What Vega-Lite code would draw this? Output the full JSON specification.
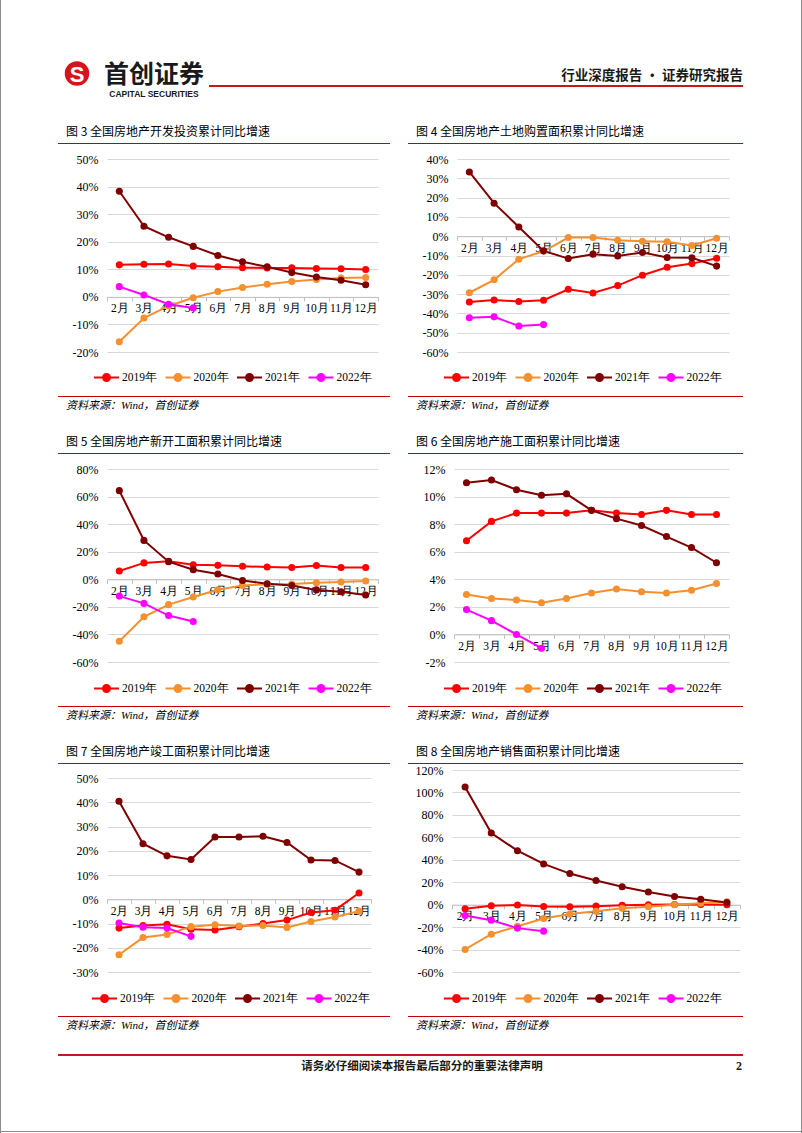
{
"$schema": "https://vega.github.io/schema/vega-lite/v6.json",
"background": "white",
"padding": 0,
"config": {"view": {"stroke": null}, "font": "Noto Sans CJK SC"},
"datasets": {
"c1": [
{"month":"2月","year":"2019年","value":11.6},{"month":"3月","year":"2019年","value":11.8},{"month":"4月","year":"2019年","value":11.9},{"month":"5月","year":"2019年","value":11.2},{"month":"6月","year":"2019年","value":10.9},{"month":"7月","year":"2019年","value":10.6},{"month":"8月","year":"2019年","value":10.5},{"month":"9月","year":"2019年","value":10.5},{"month":"10月","year":"2019年","value":10.3},{"month":"11月","year":"2019年","value":10.2},{"month":"12月","year":"2019年","value":9.9},
{"month":"2月","year":"2020年","value":-16.3},{"month":"3月","year":"2020年","value":-7.7},{"month":"4月","year":"2020年","value":-3.3},{"month":"5月","year":"2020年","value":-0.3},{"month":"6月","year":"2020年","value":1.9},{"month":"7月","year":"2020年","value":3.4},{"month":"8月","year":"2020年","value":4.6},{"month":"9月","year":"2020年","value":5.6},{"month":"10月","year":"2020年","value":6.3},{"month":"11月","year":"2020年","value":6.8},{"month":"12月","year":"2020年","value":7.0},
{"month":"2月","year":"2021年","value":38.3},{"month":"3月","year":"2021年","value":25.6},{"month":"4月","year":"2021年","value":21.6},{"month":"5月","year":"2021年","value":18.3},{"month":"6月","year":"2021年","value":15.0},{"month":"7月","year":"2021年","value":12.7},{"month":"8月","year":"2021年","value":10.9},{"month":"9月","year":"2021年","value":8.8},{"month":"10月","year":"2021年","value":7.2},{"month":"11月","year":"2021年","value":6.0},{"month":"12月","year":"2021年","value":4.4},
{"month":"2月","year":"2022年","value":3.7},{"month":"3月","year":"2022年","value":0.7},{"month":"4月","year":"2022年","value":-2.7},{"month":"5月","year":"2022年","value":-4.0}],
"c2": [
{"month":"2月","year":"2019年","value":-34.1},{"month":"3月","year":"2019年","value":-33.1},{"month":"4月","year":"2019年","value":-33.8},{"month":"5月","year":"2019年","value":-33.2},{"month":"6月","year":"2019年","value":-27.5},{"month":"7月","year":"2019年","value":-29.4},{"month":"8月","year":"2019年","value":-25.6},{"month":"9月","year":"2019年","value":-20.2},{"month":"10月","year":"2019年","value":-16.1},{"month":"11月","year":"2019年","value":-14.2},{"month":"12月","year":"2019年","value":-11.4},
{"month":"2月","year":"2020年","value":-29.3},{"month":"3月","year":"2020年","value":-22.6},{"month":"4月","year":"2020年","value":-11.9},{"month":"5月","year":"2020年","value":-7.8},{"month":"6月","year":"2020年","value":-0.7},{"month":"7月","year":"2020年","value":-0.7},{"month":"8月","year":"2020年","value":-2.1},{"month":"9月","year":"2020年","value":-2.6},{"month":"10月","year":"2020年","value":-2.9},{"month":"11月","year":"2020年","value":-4.8},{"month":"12月","year":"2020年","value":-1.1},
{"month":"2月","year":"2021年","value":33.3},{"month":"3月","year":"2021年","value":17.1},{"month":"4月","year":"2021年","value":4.8},{"month":"5月","year":"2021年","value":-7.6},{"month":"6月","year":"2021年","value":-11.6},{"month":"7月","year":"2021年","value":-9.3},{"month":"8月","year":"2021年","value":-10.2},{"month":"9月","year":"2021年","value":-8.4},{"month":"10月","year":"2021年","value":-11.0},{"month":"11月","year":"2021年","value":-11.2},{"month":"12月","year":"2021年","value":-15.5},
{"month":"2月","year":"2022年","value":-42.3},{"month":"3月","year":"2022年","value":-41.8},{"month":"4月","year":"2022年","value":-46.5},{"month":"5月","year":"2022年","value":-45.8}],
"c3": [
{"month":"2月","year":"2019年","value":6.0},{"month":"3月","year":"2019年","value":11.9},{"month":"4月","year":"2019年","value":13.1},{"month":"5月","year":"2019年","value":10.5},{"month":"6月","year":"2019年","value":10.1},{"month":"7月","year":"2019年","value":9.5},{"month":"8月","year":"2019年","value":8.9},{"month":"9月","year":"2019年","value":8.6},{"month":"10月","year":"2019年","value":10.0},{"month":"11月","year":"2019年","value":8.6},{"month":"12月","year":"2019年","value":8.5},
{"month":"2月","year":"2020年","value":-44.9},{"month":"3月","year":"2020年","value":-27.2},{"month":"4月","year":"2020年","value":-18.4},{"month":"5月","year":"2020年","value":-12.8},{"month":"6月","year":"2020年","value":-7.6},{"month":"7月","year":"2020年","value":-4.5},{"month":"8月","year":"2020年","value":-3.6},{"month":"9月","year":"2020年","value":-3.4},{"month":"10月","year":"2020年","value":-2.6},{"month":"11月","year":"2020年","value":-2.0},{"month":"12月","year":"2020年","value":-1.2},
{"month":"2月","year":"2021年","value":64.3},{"month":"3月","year":"2021年","value":28.2},{"month":"4月","year":"2021年","value":12.8},{"month":"5月","year":"2021年","value":6.9},{"month":"6月","year":"2021年","value":3.8},{"month":"7月","year":"2021年","value":-0.9},{"month":"8月","year":"2021年","value":-3.2},{"month":"9月","year":"2021年","value":-4.5},{"month":"10月","year":"2021年","value":-7.7},{"month":"11月","year":"2021年","value":-9.1},{"month":"12月","year":"2021年","value":-11.4},
{"month":"2月","year":"2022年","value":-12.2},{"month":"3月","year":"2022年","value":-17.5},{"month":"4月","year":"2022年","value":-26.3},{"month":"5月","year":"2022年","value":-30.6}],
"c4": [
{"month":"2月","year":"2019年","value":6.8},{"month":"3月","year":"2019年","value":8.2},{"month":"4月","year":"2019年","value":8.8},{"month":"5月","year":"2019年","value":8.8},{"month":"6月","year":"2019年","value":8.8},{"month":"7月","year":"2019年","value":9.0},{"month":"8月","year":"2019年","value":8.8},{"month":"9月","year":"2019年","value":8.7},{"month":"10月","year":"2019年","value":9.0},{"month":"11月","year":"2019年","value":8.7},{"month":"12月","year":"2019年","value":8.7},
{"month":"2月","year":"2020年","value":2.9},{"month":"3月","year":"2020年","value":2.6},{"month":"4月","year":"2020年","value":2.5},{"month":"5月","year":"2020年","value":2.3},{"month":"6月","year":"2020年","value":2.6},{"month":"7月","year":"2020年","value":3.0},{"month":"8月","year":"2020年","value":3.3},{"month":"9月","year":"2020年","value":3.1},{"month":"10月","year":"2020年","value":3.0},{"month":"11月","year":"2020年","value":3.2},{"month":"12月","year":"2020年","value":3.7},
{"month":"2月","year":"2021年","value":11.0},{"month":"3月","year":"2021年","value":11.2},{"month":"4月","year":"2021年","value":10.5},{"month":"5月","year":"2021年","value":10.1},{"month":"6月","year":"2021年","value":10.2},{"month":"7月","year":"2021年","value":9.0},{"month":"8月","year":"2021年","value":8.4},{"month":"9月","year":"2021年","value":7.9},{"month":"10月","year":"2021年","value":7.1},{"month":"11月","year":"2021年","value":6.3},{"month":"12月","year":"2021年","value":5.2},
{"month":"2月","year":"2022年","value":1.8},{"month":"3月","year":"2022年","value":1.0},{"month":"4月","year":"2022年","value":0.0},{"month":"5月","year":"2022年","value":-1.0}],
"c5": [
{"month":"2月","year":"2019年","value":-11.9},{"month":"3月","year":"2019年","value":-10.8},{"month":"4月","year":"2019年","value":-10.3},{"month":"5月","year":"2019年","value":-12.4},{"month":"6月","year":"2019年","value":-12.7},{"month":"7月","year":"2019年","value":-11.3},{"month":"8月","year":"2019年","value":-10.0},{"month":"9月","year":"2019年","value":-8.6},{"month":"10月","year":"2019年","value":-5.5},{"month":"11月","year":"2019年","value":-4.5},{"month":"12月","year":"2019年","value":2.6},
{"month":"2月","year":"2020年","value":-22.9},{"month":"3月","year":"2020年","value":-15.8},{"month":"4月","year":"2020年","value":-14.5},{"month":"5月","year":"2020年","value":-11.3},{"month":"6月","year":"2020年","value":-10.5},{"month":"7月","year":"2020年","value":-11.0},{"month":"8月","year":"2020年","value":-10.8},{"month":"9月","year":"2020年","value":-11.6},{"month":"10月","year":"2020年","value":-9.2},{"month":"11月","year":"2020年","value":-7.3},{"month":"12月","year":"2020年","value":-4.9},
{"month":"2月","year":"2021年","value":40.4},{"month":"3月","year":"2021年","value":22.9},{"month":"4月","year":"2021年","value":17.9},{"month":"5月","year":"2021年","value":16.4},{"month":"6月","year":"2021年","value":25.7},{"month":"7月","year":"2021年","value":25.7},{"month":"8月","year":"2021年","value":26.0},{"month":"9月","year":"2021年","value":23.4},{"month":"10月","year":"2021年","value":16.2},{"month":"11月","year":"2021年","value":16.0},{"month":"12月","year":"2021年","value":11.2},
{"month":"2月","year":"2022年","value":-9.8},{"month":"3月","year":"2022年","value":-11.5},{"month":"4月","year":"2022年","value":-11.9},{"month":"5月","year":"2022年","value":-15.3}],
"c6": [
{"month":"2月","year":"2019年","value":-3.6},{"month":"3月","year":"2019年","value":-0.9},{"month":"4月","year":"2019年","value":-0.3},{"month":"5月","year":"2019年","value":-1.6},{"month":"6月","year":"2019年","value":-1.8},{"month":"7月","year":"2019年","value":-1.3},{"month":"8月","year":"2019年","value":-0.6},{"month":"9月","year":"2019年","value":-0.1},{"month":"10月","year":"2019年","value":0.1},{"month":"11月","year":"2019年","value":0.2},{"month":"12月","year":"2019年","value":-0.1},
{"month":"2月","year":"2020年","value":-39.9},{"month":"3月","year":"2020年","value":-26.3},{"month":"4月","year":"2020年","value":-19.3},{"month":"5月","year":"2020年","value":-12.3},{"month":"6月","year":"2020年","value":-8.4},{"month":"7月","year":"2020年","value":-5.8},{"month":"8月","year":"2020年","value":-3.3},{"month":"9月","year":"2020年","value":-1.8},{"month":"10月","year":"2020年","value":0.0},{"month":"11月","year":"2020年","value":1.3},{"month":"12月","year":"2020年","value":2.6},
{"month":"2月","year":"2021年","value":104.9},{"month":"3月","year":"2021年","value":63.8},{"month":"4月","year":"2021年","value":48.1},{"month":"5月","year":"2021年","value":36.3},{"month":"6月","year":"2021年","value":27.7},{"month":"7月","year":"2021年","value":21.5},{"month":"8月","year":"2021年","value":15.9},{"month":"9月","year":"2021年","value":11.3},{"month":"10月","year":"2021年","value":7.3},{"month":"11月","year":"2021年","value":4.8},{"month":"12月","year":"2021年","value":1.9},
{"month":"2月","year":"2022年","value":-9.6},{"month":"3月","year":"2022年","value":-13.8},{"month":"4月","year":"2022年","value":-20.9},{"month":"5月","year":"2022年","value":-23.6}]
},
"spacing": 0,
"bounds": "full",
"resolve": {"scale": {"color": "independent"}, "legend": {"color": "independent"}},
"hconcat": [
{"width": 1, "height": 1133, "data": {"values": []}, "mark": "point", "view": {"fill": "#8c8c8c", "stroke": null}},
{"spacing": 0, "bounds": "full",
 "resolve": {"scale": {"color": "independent"}, "legend": {"color": "independent"}},
 "vconcat": [
  {"columns": 6, "spacing": 0, "bounds": "flush", "align": "each",
   "concat": [
    {"width": 62, "height": 62, "data": {"values": []}, "mark": "point"},
    {"width": 28, "height": 1, "data": {"values": []}, "mark": "point"},
    {"width": 8, "height": 1, "data": {"values": []}, "mark": "point"},
    {"width": 110, "height": 1, "data": {"values": []}, "mark": "point"},
    {"width": 534, "height": 1, "data": {"values": []}, "mark": "point"},
    {"width": 58, "height": 1, "data": {"values": []}, "mark": "point"},

    {"width": 1, "height": 23, "data": {"values": []}, "mark": "point"},
    {"width": 28, "height": 23, "data": {"values": [{"t": "S"}]},
     "layer": [
      {"mark": {"type": "point", "shape": "circle", "filled": true, "size": 600, "color": "#d7141a", "opacity": 1}},
      {"mark": {"type": "text", "font": "Liberation Sans", "fontSize": 22, "fontWeight": "bold", "color": "#ffffff", "baseline": "middle", "dy": 1}, "encoding": {"text": {"field": "t"}}}
     ]},
    {"width": 1, "height": 1, "data": {"values": []}, "mark": "point"},
    {"width": 110, "height": 23, "data": {"values": [{"t": "首创证券"}]}, "mark": {"type": "text", "font": "Noto Sans CJK SC", "fontSize": 25, "fontWeight": "bold", "color": "#1a1a1a", "baseline": "middle", "dy": 1.5}, "encoding": {"text": {"field": "t"}}},
    {"width": 1, "height": 1, "data": {"values": []}, "mark": "point"},
    {"width": 1, "height": 1, "data": {"values": []}, "mark": "point"},

    {"width": 1, "height": 2, "data": {"values": []}, "mark": "point"},
    {"width": 1, "height": 1, "data": {"values": []}, "mark": "point"},
    {"width": 1, "height": 1, "data": {"values": []}, "mark": "point"},
    {"width": 1, "height": 1, "data": {"values": []}, "mark": "point"},
    {"width": 534, "height": 2, "data": {"values": []}, "mark": "point", "view": {"fill": "#c8161d", "stroke": null},
     "title": {"text": "行业深度报告 · 证券研究报告", "orient": "top", "anchor": "end", "offset": 3, "fontSize": 13.5, "font": "Noto Sans CJK SC", "fontWeight": "bold", "color": "#1a1a1a"}},
    {"width": 1, "height": 1, "data": {"values": []}, "mark": "point"},

    {"width": 1, "height": 13, "data": {"values": []}, "mark": "point"},
    {"width": 1, "height": 1, "data": {"values": []}, "mark": "point"},
    {"width": 1, "height": 1, "data": {"values": []}, "mark": "point"},
    {"width": 110, "height": 13, "data": {"values": [{"t": "CAPITAL SECURITIES"}]}, "mark": {"type": "text", "font": "Liberation Sans", "fontSize": 8.5, "fontWeight": "bold", "color": "#1a1a1a", "baseline": "middle"}, "encoding": {"text": {"field": "t"}}},
    {"width": 1, "height": 1, "data": {"values": []}, "mark": "point"},
    {"width": 1, "height": 1, "data": {"values": []}, "mark": "point"}
   ]},

  {"columns": 7, "spacing": 0, "bounds": "flush", "align": "each",
   "resolve": {"scale": {"color": "independent"}, "legend": {"color": "independent"}},
   "concat": [
    {"width": 57, "height": 43, "data": {"values": []}, "mark": "point"},
    {"width": 49, "height": 1, "data": {"values": []}, "mark": "point"},
    {"width": 271, "height": 1, "data": {"values": []}, "mark": "point"},
    {"width": 12, "height": 1, "data": {"values": []}, "mark": "point"},
    {"width": 18, "height": 1, "data": {"values": []}, "mark": "point"},
    {"width": 44, "height": 1, "data": {"values": []}, "mark": "point"},
    {"width": 291, "height": 1, "data": {"values": []}, "mark": "point"},

    {"width": 1, "height": 1, "data": {"values": []}, "mark": "point"},
    {"width": 49, "height": 1, "data": {"values": []}, "mark": "point", "view": {"fill": "#c00000", "stroke": null},
     "title": {"text": "图 3 全国房地产开发投资累计同比增速", "orient": "top", "anchor": "start", "offset": 4, "dx": 8, "fontSize": 12, "font": "Noto Sans CJK SC", "fontWeight": "normal", "color": "#000000"}},
    {"width": 271, "height": 1, "data": {"values": []}, "mark": "point", "view": {"fill": "#c00000", "stroke": null}},
    {"width": 12, "height": 1, "data": {"values": []}, "mark": "point", "view": {"fill": "#c00000", "stroke": null}},
    {"width": 1, "height": 1, "data": {"values": []}, "mark": "point"},
    {"width": 44, "height": 1, "data": {"values": []}, "mark": "point", "view": {"fill": "#c00000", "stroke": null},
     "title": {"text": "图 4 全国房地产土地购置面积累计同比增速", "orient": "top", "anchor": "start", "offset": 4, "dx": 8, "fontSize": 12, "font": "Noto Sans CJK SC", "fontWeight": "normal", "color": "#000000"}},
    {"width": 291, "height": 1, "data": {"values": []}, "mark": "point", "view": {"fill": "#c00000", "stroke": null}},

    {"width": 1, "height": 15, "data": {"values": []}, "mark": "point"},
    {"width": 1, "height": 1, "data": {"values": []}, "mark": "point"},
    {"width": 1, "height": 1, "data": {"values": []}, "mark": "point"},
    {"width": 1, "height": 1, "data": {"values": []}, "mark": "point"},
    {"width": 1, "height": 1, "data": {"values": []}, "mark": "point"},
    {"width": 1, "height": 1, "data": {"values": []}, "mark": "point"},
    {"width": 1, "height": 1, "data": {"values": []}, "mark": "point"},

    {"width": 1, "height": 1, "data": {"values": []}, "mark": "point"},
    {"width": 1, "height": 1, "data": {"values": []}, "mark": "point"},
    {"width": 271, "height": 193, "data": {"name": "c1"},
     "mark": {"type": "line", "strokeWidth": 2, "point": {"filled": true, "size": 50}},
     "encoding": {
      "x": {"field": "month", "type": "ordinal", "sort": ["2月","3月","4月","5月","6月","7月","8月","9月","10月","11月","12月"], "scale": {"type": "band", "paddingInner": 0, "paddingOuter": 0},
            "axis": {"title": null, "offset": -55.1, "labelAngle": 0, "domainColor": "#bfbfbf", "tickColor": "#bfbfbf", "tickSize": 4, "tickBand": "extent", "labelPadding": 2, "labelFont": "Liberation Serif", "labelFontSize": 11.5, "labelColor": "#000000", "grid": false}},
      "y": {"field": "value", "type": "quantitative", "scale": {"domain": [-20, 50], "nice": false, "zero": false},
            "axis": {"title": null, "values": [-20,-10,0,10,20,30,40,50], "labelExpr": "datum.value + '%'", "domain": false, "ticks": false, "gridColor": "#d9d9d9", "labelPadding": 9, "labelFont": "Liberation Serif", "labelFontSize": 12, "labelColor": "#000000"}},
      "color": {"field": "year", "type": "nominal", "scale": {"domain": ["2019年","2020年","2021年","2022年"], "range": ["#ff0000","#f5902f","#7f0000","#ff00ff"]},
            "legend": {"orient": "none", "legendX": -14, "legendY": 205, "direction": "horizontal", "title": null, "padding": 0, "symbolType": "M-1,0L1,0M0.28,0A0.28,0.28,0,1,1,-0.28,0A0.28,0.28,0,1,1,0.28,0M0.13,0A0.13,0.13,0,1,1,-0.13,0A0.13,0.13,0,1,1,0.13,0", "symbolSize": 625, "symbolStrokeWidth": 2, "labelFont": "Liberation Serif", "labelFontSize": 11.5, "labelColor": "#000000", "labelOffset": 2, "columnPadding": 4.5}}
     }},
    {"width": 1, "height": 1, "data": {"values": []}, "mark": "point"},
    {"width": 1, "height": 1, "data": {"values": []}, "mark": "point"},
    {"width": 1, "height": 1, "data": {"values": []}, "mark": "point"},
    {"width": 277, "height": 193, "data": {"name": "c2"},
     "mark": {"type": "line", "strokeWidth": 2, "point": {"filled": true, "size": 50}},
     "encoding": {
      "x": {"field": "month", "type": "ordinal", "sort": ["2月","3月","4月","5月","6月","7月","8月","9月","10月","11月","12月"], "scale": {"type": "band", "paddingInner": 0, "paddingOuter": 0, "range": [5, 277]},
            "axis": {"title": null, "offset": -115.8, "labelAngle": 0, "domainColor": "#bfbfbf", "tickColor": "#bfbfbf", "tickSize": 4, "tickBand": "extent", "labelPadding": 2, "labelFont": "Liberation Serif", "labelFontSize": 11.5, "labelColor": "#000000", "grid": false}},
      "y": {"field": "value", "type": "quantitative", "scale": {"domain": [-60, 40], "nice": false, "zero": false},
            "axis": {"title": null, "values": [-60,-50,-40,-30,-20,-10,0,10,20,30,40], "labelExpr": "datum.value + '%'", "domain": false, "ticks": false, "gridColor": "#d9d9d9", "labelPadding": 4, "labelFont": "Liberation Serif", "labelFontSize": 12, "labelColor": "#000000"}},
      "color": {"field": "year", "type": "nominal", "scale": {"domain": ["2019年","2020年","2021年","2022年"], "range": ["#ff0000","#f5902f","#7f0000","#ff00ff"]},
            "legend": {"orient": "none", "legendX": -9, "legendY": 205, "direction": "horizontal", "title": null, "padding": 0, "symbolType": "M-1,0L1,0M0.28,0A0.28,0.28,0,1,1,-0.28,0A0.28,0.28,0,1,1,0.28,0M0.13,0A0.13,0.13,0,1,1,-0.13,0A0.13,0.13,0,1,1,0.13,0", "symbolSize": 625, "symbolStrokeWidth": 2, "labelFont": "Liberation Serif", "labelFontSize": 11.5, "labelColor": "#000000", "labelOffset": 2, "columnPadding": 4.5}}
     }},

    {"width": 1, "height": 44, "data": {"values": []}, "mark": "point"},
    {"width": 1, "height": 1, "data": {"values": []}, "mark": "point"},
    {"width": 1, "height": 1, "data": {"values": []}, "mark": "point"},
    {"width": 1, "height": 1, "data": {"values": []}, "mark": "point"},
    {"width": 1, "height": 1, "data": {"values": []}, "mark": "point"},
    {"width": 1, "height": 1, "data": {"values": []}, "mark": "point"},
    {"width": 1, "height": 1, "data": {"values": []}, "mark": "point"},

    {"width": 1, "height": 1, "data": {"values": []}, "mark": "point"},
    {"width": 49, "height": 1, "data": {"values": []}, "mark": "point", "view": {"fill": "#c00000", "stroke": null},
     "title": {"text": "资料来源：Wind，首创证券", "orient": "bottom", "anchor": "start", "offset": 2.5, "dx": 8, "fontSize": 11, "font": "Liberation Serif, Noto Sans CJK SC", "fontStyle": "italic", "fontWeight": "normal", "color": "#000000"}},
    {"width": 271, "height": 1, "data": {"values": []}, "mark": "point", "view": {"fill": "#c00000", "stroke": null}},
    {"width": 12, "height": 1, "data": {"values": []}, "mark": "point", "view": {"fill": "#c00000", "stroke": null}},
    {"width": 1, "height": 1, "data": {"values": []}, "mark": "point"},
    {"width": 44, "height": 1, "data": {"values": []}, "mark": "point", "view": {"fill": "#c00000", "stroke": null},
     "title": {"text": "资料来源：Wind，首创证券", "orient": "bottom", "anchor": "start", "offset": 2.5, "dx": 8, "fontSize": 11, "font": "Liberation Serif, Noto Sans CJK SC", "fontStyle": "italic", "fontWeight": "normal", "color": "#000000"}},
    {"width": 291, "height": 1, "data": {"values": []}, "mark": "point", "view": {"fill": "#c00000", "stroke": null}},

    {"width": 1, "height": 56, "data": {"values": []}, "mark": "point"},
    {"width": 1, "height": 1, "data": {"values": []}, "mark": "point"},
    {"width": 1, "height": 1, "data": {"values": []}, "mark": "point"},
    {"width": 1, "height": 1, "data": {"values": []}, "mark": "point"},
    {"width": 1, "height": 1, "data": {"values": []}, "mark": "point"},
    {"width": 1, "height": 1, "data": {"values": []}, "mark": "point"},
    {"width": 1, "height": 1, "data": {"values": []}, "mark": "point"},

    {"width": 1, "height": 1, "data": {"values": []}, "mark": "point"},
    {"width": 49, "height": 1, "data": {"values": []}, "mark": "point", "view": {"fill": "#c00000", "stroke": null},
     "title": {"text": "图 5 全国房地产新开工面积累计同比增速", "orient": "top", "anchor": "start", "offset": 4, "dx": 8, "fontSize": 12, "font": "Noto Sans CJK SC", "fontWeight": "normal", "color": "#000000"}},
    {"width": 271, "height": 1, "data": {"values": []}, "mark": "point", "view": {"fill": "#c00000", "stroke": null}},
    {"width": 12, "height": 1, "data": {"values": []}, "mark": "point", "view": {"fill": "#c00000", "stroke": null}},
    {"width": 1, "height": 1, "data": {"values": []}, "mark": "point"},
    {"width": 44, "height": 1, "data": {"values": []}, "mark": "point", "view": {"fill": "#c00000", "stroke": null},
     "title": {"text": "图 6 全国房地产施工面积累计同比增速", "orient": "top", "anchor": "start", "offset": 4, "dx": 8, "fontSize": 12, "font": "Noto Sans CJK SC", "fontWeight": "normal", "color": "#000000"}},
    {"width": 291, "height": 1, "data": {"values": []}, "mark": "point", "view": {"fill": "#c00000", "stroke": null}},

    {"width": 1, "height": 15, "data": {"values": []}, "mark": "point"},
    {"width": 1, "height": 1, "data": {"values": []}, "mark": "point"},
    {"width": 1, "height": 1, "data": {"values": []}, "mark": "point"},
    {"width": 1, "height": 1, "data": {"values": []}, "mark": "point"},
    {"width": 1, "height": 1, "data": {"values": []}, "mark": "point"},
    {"width": 1, "height": 1, "data": {"values": []}, "mark": "point"},
    {"width": 1, "height": 1, "data": {"values": []}, "mark": "point"},

    {"width": 1, "height": 1, "data": {"values": []}, "mark": "point"},
    {"width": 1, "height": 1, "data": {"values": []}, "mark": "point"},
    {"width": 271, "height": 193, "data": {"name": "c3"},
     "mark": {"type": "line", "strokeWidth": 2, "point": {"filled": true, "size": 50}},
     "encoding": {
      "x": {"field": "month", "type": "ordinal", "sort": ["2月","3月","4月","5月","6月","7月","8月","9月","10月","11月","12月"], "scale": {"type": "band", "paddingInner": 0, "paddingOuter": 0},
            "axis": {"title": null, "offset": -82.7, "labelAngle": 0, "domainColor": "#bfbfbf", "tickColor": "#bfbfbf", "tickSize": 4, "tickBand": "extent", "labelPadding": 2, "labelFont": "Liberation Serif", "labelFontSize": 11.5, "labelColor": "#000000", "grid": false}},
      "y": {"field": "value", "type": "quantitative", "scale": {"domain": [-60, 80], "nice": false, "zero": false},
            "axis": {"title": null, "values": [-60,-40,-20,0,20,40,60,80], "labelExpr": "datum.value + '%'", "domain": false, "ticks": false, "gridColor": "#d9d9d9", "labelPadding": 9, "labelFont": "Liberation Serif", "labelFontSize": 12, "labelColor": "#000000"}},
      "color": {"field": "year", "type": "nominal", "scale": {"domain": ["2019年","2020年","2021年","2022年"], "range": ["#ff0000","#f5902f","#7f0000","#ff00ff"]},
            "legend": {"orient": "none", "legendX": -14, "legendY": 206, "direction": "horizontal", "title": null, "padding": 0, "symbolType": "M-1,0L1,0M0.28,0A0.28,0.28,0,1,1,-0.28,0A0.28,0.28,0,1,1,0.28,0M0.13,0A0.13,0.13,0,1,1,-0.13,0A0.13,0.13,0,1,1,0.13,0", "symbolSize": 625, "symbolStrokeWidth": 2, "labelFont": "Liberation Serif", "labelFontSize": 11.5, "labelColor": "#000000", "labelOffset": 2, "columnPadding": 4.5}}
     }},
    {"width": 1, "height": 1, "data": {"values": []}, "mark": "point"},
    {"width": 1, "height": 1, "data": {"values": []}, "mark": "point"},
    {"width": 1, "height": 1, "data": {"values": []}, "mark": "point"},
    {"width": 277, "height": 193, "data": {"name": "c4"},
     "mark": {"type": "line", "strokeWidth": 2, "point": {"filled": true, "size": 50}},
     "encoding": {
      "x": {"field": "month", "type": "ordinal", "sort": ["2月","3月","4月","5月","6月","7月","8月","9月","10月","11月","12月"], "scale": {"type": "band", "paddingInner": 0, "paddingOuter": 0, "range": [2, 277]},
            "axis": {"title": null, "offset": -27.6, "labelAngle": 0, "domainColor": "#bfbfbf", "tickColor": "#bfbfbf", "tickSize": 4, "tickBand": "extent", "labelPadding": 2, "labelFont": "Liberation Serif", "labelFontSize": 11.5, "labelColor": "#000000", "grid": false}},
      "y": {"field": "value", "type": "quantitative", "scale": {"domain": [-2, 12], "nice": false, "zero": false},
            "axis": {"title": null, "values": [-2,0,2,4,6,8,10,12], "labelExpr": "datum.value + '%'", "domain": false, "ticks": false, "gridColor": "#d9d9d9", "labelPadding": 7, "labelFont": "Liberation Serif", "labelFontSize": 12, "labelColor": "#000000"}},
      "color": {"field": "year", "type": "nominal", "scale": {"domain": ["2019年","2020年","2021年","2022年"], "range": ["#ff0000","#f5902f","#7f0000","#ff00ff"]},
            "legend": {"orient": "none", "legendX": -9, "legendY": 206, "direction": "horizontal", "title": null, "padding": 0, "symbolType": "M-1,0L1,0M0.28,0A0.28,0.28,0,1,1,-0.28,0A0.28,0.28,0,1,1,0.28,0M0.13,0A0.13,0.13,0,1,1,-0.13,0A0.13,0.13,0,1,1,0.13,0", "symbolSize": 625, "symbolStrokeWidth": 2, "labelFont": "Liberation Serif", "labelFontSize": 11.5, "labelColor": "#000000", "labelOffset": 2, "columnPadding": 4.5}}
     }},

    {"width": 1, "height": 44, "data": {"values": []}, "mark": "point"},
    {"width": 1, "height": 1, "data": {"values": []}, "mark": "point"},
    {"width": 1, "height": 1, "data": {"values": []}, "mark": "point"},
    {"width": 1, "height": 1, "data": {"values": []}, "mark": "point"},
    {"width": 1, "height": 1, "data": {"values": []}, "mark": "point"},
    {"width": 1, "height": 1, "data": {"values": []}, "mark": "point"},
    {"width": 1, "height": 1, "data": {"values": []}, "mark": "point"},

    {"width": 1, "height": 1, "data": {"values": []}, "mark": "point"},
    {"width": 49, "height": 1, "data": {"values": []}, "mark": "point", "view": {"fill": "#c00000", "stroke": null},
     "title": {"text": "资料来源：Wind，首创证券", "orient": "bottom", "anchor": "start", "offset": 2.5, "dx": 8, "fontSize": 11, "font": "Liberation Serif, Noto Sans CJK SC", "fontStyle": "italic", "fontWeight": "normal", "color": "#000000"}},
    {"width": 271, "height": 1, "data": {"values": []}, "mark": "point", "view": {"fill": "#c00000", "stroke": null}},
    {"width": 12, "height": 1, "data": {"values": []}, "mark": "point", "view": {"fill": "#c00000", "stroke": null}},
    {"width": 1, "height": 1, "data": {"values": []}, "mark": "point"},
    {"width": 44, "height": 1, "data": {"values": []}, "mark": "point", "view": {"fill": "#c00000", "stroke": null},
     "title": {"text": "资料来源：Wind，首创证券", "orient": "bottom", "anchor": "start", "offset": 2.5, "dx": 8, "fontSize": 11, "font": "Liberation Serif, Noto Sans CJK SC", "fontStyle": "italic", "fontWeight": "normal", "color": "#000000"}},
    {"width": 291, "height": 1, "data": {"values": []}, "mark": "point", "view": {"fill": "#c00000", "stroke": null}},

    {"width": 1, "height": 56, "data": {"values": []}, "mark": "point"},
    {"width": 1, "height": 1, "data": {"values": []}, "mark": "point"},
    {"width": 1, "height": 1, "data": {"values": []}, "mark": "point"},
    {"width": 1, "height": 1, "data": {"values": []}, "mark": "point"},
    {"width": 1, "height": 1, "data": {"values": []}, "mark": "point"},
    {"width": 1, "height": 1, "data": {"values": []}, "mark": "point"},
    {"width": 1, "height": 1, "data": {"values": []}, "mark": "point"},

    {"width": 1, "height": 1, "data": {"values": []}, "mark": "point"},
    {"width": 49, "height": 1, "data": {"values": []}, "mark": "point", "view": {"fill": "#c00000", "stroke": null},
     "title": {"text": "图 7 全国房地产竣工面积累计同比增速", "orient": "top", "anchor": "start", "offset": 4, "dx": 8, "fontSize": 12, "font": "Noto Sans CJK SC", "fontWeight": "normal", "color": "#000000"}},
    {"width": 271, "height": 1, "data": {"values": []}, "mark": "point", "view": {"fill": "#c00000", "stroke": null}},
    {"width": 12, "height": 1, "data": {"values": []}, "mark": "point", "view": {"fill": "#c00000", "stroke": null}},
    {"width": 1, "height": 1, "data": {"values": []}, "mark": "point"},
    {"width": 44, "height": 1, "data": {"values": []}, "mark": "point", "view": {"fill": "#c00000", "stroke": null},
     "title": {"text": "图 8 全国房地产销售面积累计同比增速", "orient": "top", "anchor": "start", "offset": 4, "dx": 8, "fontSize": 12, "font": "Noto Sans CJK SC", "fontWeight": "normal", "color": "#000000"}},
    {"width": 291, "height": 1, "data": {"values": []}, "mark": "point", "view": {"fill": "#c00000", "stroke": null}},

    {"width": 1, "height": 6, "data": {"values": []}, "mark": "point"},
    {"width": 1, "height": 1, "data": {"values": []}, "mark": "point"},
    {"width": 1, "height": 1, "data": {"values": []}, "mark": "point"},
    {"width": 1, "height": 1, "data": {"values": []}, "mark": "point"},
    {"width": 1, "height": 1, "data": {"values": []}, "mark": "point"},
    {"width": 1, "height": 1, "data": {"values": []}, "mark": "point"},
    {"width": 1, "height": 1, "data": {"values": []}, "mark": "point"},

    {"width": 1, "height": 1, "data": {"values": []}, "mark": "point"},
    {"width": 1, "height": 1, "data": {"values": []}, "mark": "point"},
    {"width": 264, "height": 202, "data": {"name": "c5"},
     "mark": {"type": "line", "strokeWidth": 2, "point": {"filled": true, "size": 50}},
     "encoding": {
      "x": {"field": "month", "type": "ordinal", "sort": ["2月","3月","4月","5月","6月","7月","8月","9月","10月","11月","12月"], "scale": {"type": "band", "paddingInner": 0, "paddingOuter": 0},
            "axis": {"title": null, "offset": -72.75, "labelAngle": 0, "domainColor": "#bfbfbf", "tickColor": "#bfbfbf", "tickSize": 4, "tickBand": "extent", "labelPadding": 2, "labelFont": "Liberation Serif", "labelFontSize": 11.5, "labelColor": "#000000", "grid": false}},
      "y": {"field": "value", "type": "quantitative", "scale": {"domain": [-30, 53.3], "nice": false, "zero": false},
            "axis": {"title": null, "values": [-30,-20,-10,0,10,20,30,40,50], "labelExpr": "datum.value + '%'", "domain": false, "ticks": false, "gridColor": "#d9d9d9", "labelPadding": 9, "labelFont": "Liberation Serif", "labelFontSize": 12, "labelColor": "#000000"}},
      "color": {"field": "year", "type": "nominal", "scale": {"domain": ["2019年","2020年","2021年","2022年"], "range": ["#ff0000","#f5902f","#7f0000","#ff00ff"]},
            "legend": {"orient": "none", "legendX": -16, "legendY": 215, "direction": "horizontal", "title": null, "padding": 0, "symbolType": "M-1,0L1,0M0.28,0A0.28,0.28,0,1,1,-0.28,0A0.28,0.28,0,1,1,0.28,0M0.13,0A0.13,0.13,0,1,1,-0.13,0A0.13,0.13,0,1,1,0.13,0", "symbolSize": 625, "symbolStrokeWidth": 2, "labelFont": "Liberation Serif", "labelFontSize": 11.5, "labelColor": "#000000", "labelOffset": 2, "columnPadding": 4.5}}
     }},
    {"width": 1, "height": 1, "data": {"values": []}, "mark": "point"},
    {"width": 1, "height": 1, "data": {"values": []}, "mark": "point"},
    {"width": 1, "height": 1, "data": {"values": []}, "mark": "point"},
    {"width": 288, "height": 202, "data": {"name": "c6"},
     "mark": {"type": "line", "strokeWidth": 2, "point": {"filled": true, "size": 50}},
     "encoding": {
      "x": {"field": "month", "type": "ordinal", "sort": ["2月","3月","4月","5月","6月","7月","8月","9月","10月","11月","12月"], "scale": {"type": "band", "paddingInner": 0, "paddingOuter": 0},
            "axis": {"title": null, "offset": -67.3, "labelAngle": 0, "domainColor": "#bfbfbf", "tickColor": "#bfbfbf", "tickSize": 4, "tickBand": "extent", "labelPadding": 2, "labelFont": "Liberation Serif", "labelFontSize": 11.5, "labelColor": "#000000", "grid": false}},
      "y": {"field": "value", "type": "quantitative", "scale": {"domain": [-60, 120], "nice": false, "zero": false},
            "axis": {"title": null, "values": [-60,-40,-20,0,20,40,60,80,100,120], "labelExpr": "datum.value + '%'", "domain": false, "ticks": false, "gridColor": "#d9d9d9", "labelPadding": 9, "labelFont": "Liberation Serif", "labelFontSize": 12, "labelColor": "#000000"}},
      "color": {"field": "year", "type": "nominal", "scale": {"domain": ["2019年","2020年","2021年","2022年"], "range": ["#ff0000","#f5902f","#7f0000","#ff00ff"]},
            "legend": {"orient": "none", "legendX": -9, "legendY": 215, "direction": "horizontal", "title": null, "padding": 0, "symbolType": "M-1,0L1,0M0.28,0A0.28,0.28,0,1,1,-0.28,0A0.28,0.28,0,1,1,0.28,0M0.13,0A0.13,0.13,0,1,1,-0.13,0A0.13,0.13,0,1,1,0.13,0", "symbolSize": 625, "symbolStrokeWidth": 2, "labelFont": "Liberation Serif", "labelFontSize": 11.5, "labelColor": "#000000", "labelOffset": 2, "columnPadding": 4.5}}
     }},

    {"width": 1, "height": 44, "data": {"values": []}, "mark": "point"},
    {"width": 1, "height": 1, "data": {"values": []}, "mark": "point"},
    {"width": 1, "height": 1, "data": {"values": []}, "mark": "point"},
    {"width": 1, "height": 1, "data": {"values": []}, "mark": "point"},
    {"width": 1, "height": 1, "data": {"values": []}, "mark": "point"},
    {"width": 1, "height": 1, "data": {"values": []}, "mark": "point"},
    {"width": 1, "height": 1, "data": {"values": []}, "mark": "point"},

    {"width": 1, "height": 1, "data": {"values": []}, "mark": "point"},
    {"width": 49, "height": 1, "data": {"values": []}, "mark": "point", "view": {"fill": "#c00000", "stroke": null},
     "title": {"text": "资料来源：Wind，首创证券", "orient": "bottom", "anchor": "start", "offset": 2.5, "dx": 8, "fontSize": 11, "font": "Liberation Serif, Noto Sans CJK SC", "fontStyle": "italic", "fontWeight": "normal", "color": "#000000"}},
    {"width": 271, "height": 1, "data": {"values": []}, "mark": "point", "view": {"fill": "#c00000", "stroke": null}},
    {"width": 12, "height": 1, "data": {"values": []}, "mark": "point", "view": {"fill": "#c00000", "stroke": null}},
    {"width": 1, "height": 1, "data": {"values": []}, "mark": "point"},
    {"width": 44, "height": 1, "data": {"values": []}, "mark": "point", "view": {"fill": "#c00000", "stroke": null},
     "title": {"text": "资料来源：Wind，首创证券", "orient": "bottom", "anchor": "start", "offset": 2.5, "dx": 8, "fontSize": 11, "font": "Liberation Serif, Noto Sans CJK SC", "fontStyle": "italic", "fontWeight": "normal", "color": "#000000"}},
    {"width": 291, "height": 1, "data": {"values": []}, "mark": "point", "view": {"fill": "#c00000", "stroke": null}},

    {"width": 1, "height": 37, "data": {"values": []}, "mark": "point"},
    {"width": 1, "height": 1, "data": {"values": []}, "mark": "point"},
    {"width": 1, "height": 1, "data": {"values": []}, "mark": "point"},
    {"width": 1, "height": 1, "data": {"values": []}, "mark": "point"},
    {"width": 1, "height": 1, "data": {"values": []}, "mark": "point"},
    {"width": 1, "height": 1, "data": {"values": []}, "mark": "point"},
    {"width": 1, "height": 1, "data": {"values": []}, "mark": "point"},

    {"width": 1, "height": 2, "data": {"values": []}, "mark": "point"},
    {"width": 49, "height": 2, "data": {"values": []}, "mark": "point", "view": {"fill": "#c8161d", "stroke": null}},
    {"width": 271, "height": 2, "data": {"values": []}, "mark": "point", "view": {"fill": "#c8161d", "stroke": null},
     "title": {"text": "请务必仔细阅读本报告最后部分的重要法律声明", "orient": "bottom", "anchor": "middle", "offset": 5, "dx": 179.5, "fontSize": 11.5, "font": "Noto Sans CJK SC", "fontWeight": "bold", "color": "#1a1a1a"}},
    {"width": 12, "height": 2, "data": {"values": []}, "mark": "point", "view": {"fill": "#c8161d", "stroke": null}},
    {"width": 18, "height": 2, "data": {"values": []}, "mark": "point", "view": {"fill": "#c8161d", "stroke": null}},
    {"width": 44, "height": 2, "data": {"values": []}, "mark": "point", "view": {"fill": "#c8161d", "stroke": null}},
    {"width": 291, "height": 2, "data": {"values": []}, "mark": "point", "view": {"fill": "#c8161d", "stroke": null},
     "title": {"text": "2", "orient": "bottom", "anchor": "end", "offset": 5, "dx": -1, "fontSize": 12, "font": "Liberation Serif", "fontWeight": "bold", "color": "#1a1a1a"}},

    {"width": 1, "height": 75, "data": {"values": []}, "mark": "point"},
    {"width": 1, "height": 1, "data": {"values": []}, "mark": "point"},
    {"width": 1, "height": 1, "data": {"values": []}, "mark": "point"},
    {"width": 1, "height": 1, "data": {"values": []}, "mark": "point"},
    {"width": 1, "height": 1, "data": {"values": []}, "mark": "point"},
    {"width": 1, "height": 1, "data": {"values": []}, "mark": "point"},
    {"width": 1, "height": 1, "data": {"values": []}, "mark": "point"}
   ]},
  {"width": 800, "height": 1, "data": {"values": []}, "mark": "point", "view": {"fill": "#8c8c8c", "stroke": null}},
  {"width": 1, "height": 1, "data": {"values": []}, "mark": "point"}
 ]},
{"width": 1, "height": 1133, "data": {"values": []}, "mark": "point", "view": {"fill": "#8c8c8c", "stroke": null}}
]
}
